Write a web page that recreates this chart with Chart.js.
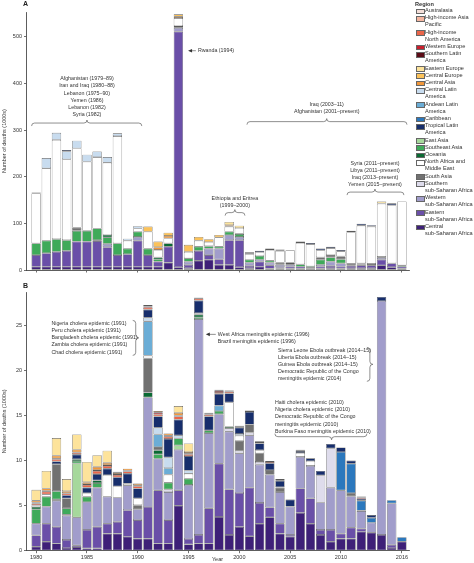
<!DOCTYPE html>
<html>
<head>
<meta charset="utf-8">
<script src="https://cdn.jsdelivr.net/npm/chart.js@4.4.1/dist/chart.umd.min.js"></script>
<style>
  html, body { margin: 0; padding: 0; background: #fff; overflow: hidden; }
  #wrap { position: relative; width: 474px; height: 563px; }
  canvas { position: absolute; left: 0; }
  #chartA { top: 0; }
  #chartB { top: 280px; }
  .panel { position: absolute; left: 23px; font: bold 7px "Liberation Sans", Arial, sans-serif; color: #222; }
  #legend { position: absolute; left: 415px; top: 0; width: 59px; font-family: "Liberation Sans Narrow", "Liberation Sans", Arial, sans-serif; font-size: 5.6px; color: #333; }
  #legend .lg-title { font-weight: bold; height: 6px; line-height: 6px; margin-top: 1px; }
  #legend .item { position: relative; padding-left: 10px; line-height: 7.2px; white-space: pre-line; }
  #legend .sw { position: absolute; left: 1px; top: 1.6px; width: 7px; height: 3.8px; border: 0.5px solid #666; }
</style>
</head>
<body>
<div id="wrap">
  <canvas id="chartA" width="474" height="280"></canvas>
  <canvas id="chartB" width="474" height="283"></canvas>
  <div class="panel" style="top:0px">A</div>
  <div class="panel" style="top:282px">B</div>
  <div id="legend"><div class="lg-title">Region</div></div>
</div>
<script>
// ── DATA ───────────────────────────────────────────────────
const years = [1980,1981,1982,1983,1984,1985,1986,1987,1988,1989,1990,1991,1992,1993,1994,1995,1996,1997,1998,
               1999,2000,2001,2002,2003,2004,2005,2006,2007,2008,2009,2010,2011,2012,2013,2014,2015,2016];
const yearTicks = [1980, 1985, 1990, 1995, 2000, 2005, 2010, 2016];
const conflictTicks = [0, 100, 200, 300, 400, 500];
const epidemicTicks = [0, 5, 10, 15, 20, 25];

// legend order (top of legend = top of stack)
const regionKeys = ['australasia','hiAsiaPac','hiNA','wEurope','southernLA','eEurope','cEurope','cAsia','cLA','andean',
                    'caribbean','tropLA','eastAsia','seAsia','oceania','name','southAsia','sssa','wssa','essa','cssa'];
const regionLabels = ['Australasia', 'High-income Asia\nPacific', 'High-income\nNorth America', 'Western Europe',
  'Southern Latin\nAmerica', 'Eastern Europe', 'Central Europe', 'Central Asia', 'Central Latin\nAmerica',
  'Andean Latin\nAmerica', 'Caribbean', 'Tropical Latin\nAmerica', 'East Asia', 'Southeast Asia', 'Oceania',
  'North Africa and\nMiddle East', 'South Asia', 'Southern\nsub-Saharan Africa', 'Western\nsub-Saharan Africa',
  'Eastern\nsub-Saharan Africa', 'Central\nsub-Saharan Africa'];
const regionColors = ['#f4dfd9','#f5b6a0','#ea6549','#c81f2d','#5b0c17','#fde39b','#fbc25a','#f2983b','#c8dcef','#6badd6',
                      '#2b78bd','#172e6c','#a6d89c','#3faa5a','#0a6a33','#ffffff','#717171','#dedcec','#a19dcb','#6a4fa8','#3e2078'];
// bottom → top
const stackOrder = ['cssa','essa','wssa','sssa','eastAsia','seAsia','oceania','southAsia','name','andean','cLA','caribbean',
                    'tropLA','australasia','hiAsiaPac','hiNA','wEurope','southernLA','cAsia','cEurope','eEurope'];

// Panel A — conflict and terrorism deaths (1000s)
const conflict = {
  cssa:   [7,7,7,7,7,7,7,7,7,7,7,7,7,16,6,4,20,22,11,11,6,4,7,3,3,3,3,3,3,4,3,4,4,4,10,6,3],
  essa:   [25,29,32,34,54,54,55,42,25,27,56,25,11,34,505,7,21,10,12,53,58,5,11,7,3,4,4,2,4,5,4,5,6,6,12,8,4],
  wssa:   [0,0,0,0,0,0,0,7,0,0,8,0,0,0,8,7,0,14,23,11,7,7,4,6,5,4,0,0,4,9,7,0,0,0,4,0,0],
  sssa:   [0,0,0,0,0,0,2,0,0,0,0,0,0,0,2,0,0,0,0,0,0,0,0,0,0,0,0,0,0,0,0,0,0,0,0,0,0],
  eastAsia: [],
  seAsia: [25,27,27,23,23,23,25,14,25,12,11,14,5,0,0,7,9,5,4,7,6,6,8,4,0,2,5,3,11,9,9,0,2,0,0,0,3],
  oceania: [0,0,0,0,0,0,0,5,0,0,0,0,4,7,2,0,0,0,0,0,1,0,0,0,0,0,0,0,0,0,0,0,0,0,0,0,0],
  southAsia: [0,0,0,0,7,0,0,0,0,0,0,0,0,0,0,0,0,0,0,0,0,0,0,0,5,3,0,0,5,5,6,4,2,3,2,0,0],
  name:   [107,155,213,173,170,148,153,155,230,17,7,36,16,11,17,14,13,9,20,11,12,12,8,23,25,26,46,47,15,15,11,68,81,80,114,125,137],
  andean: [],
  cLA:    [2,22,15,17,16,15,12,12,6,4,5,0,0,0,0,0,0,0,0,0,0,0,0,0,0,0,0,0,0,0,0,0,0,0,0,0,0],
  caribbean: [],
  tropLA: [0,0,0,3,0,0,0,0,0,0,0,0,0,0,0,0,0,0,0,0,0,0,3,0,0,1,3,3,4,3,3,3,4,3,0,4,0],
  australasia: [], hiAsiaPac: [],
  hiNA:   [0,0,0,0,0,0,0,0,0,0,0,0,0,0,0,0,0,0,0,0,0,2,0,0,2,0,0,0,0,0,0,0,0,0,0,0,0],
  wEurope: [0,0,0,0,0,0,0,0,0,0,0,0,0,0,0,0,0,0,0,0,0,2,0,3,0,0,0,0,0,0,0,0,0,0,0,0,0],
  southernLA: [],
  cAsia:  [0,0,0,0,0,0,0,0,0,0,0,0,6,5,3,0,0,0,0,3,0,0,0,0,1,0,0,0,0,0,0,0,0,0,1,0,0],
  cEurope: [0,0,0,0,0,0,0,0,0,0,0,11,12,7,5,15,8,6,5,0,0,0,0,0,0,0,0,0,0,0,0,0,0,0,0,0,0],
  eEurope: [0,0,0,0,0,0,0,0,0,0,0,0,0,0,0,0,0,0,0,7,5,0,0,0,0,0,0,0,0,0,0,0,0,0,4,0,0],
};

// Panel B — epidemic deaths (1000s)
const epidemic = {
  cssa:   [0.45,1.0,0.8,0.3,0.4,0.25,0.25,1.9,1.9,1.55,1.35,1.35,0.8,0.8,5.0,0.7,0.8,0.8,3.75,1.75,2.65,1.6,3.0,3.7,1.9,1.55,4.2,3.0,1.75,1.0,1.35,1.35,2.1,2.0,1.75,0.3,1.0],
  essa:   [1.25,2.0,1.85,0.9,0.2,2.05,2.4,1.1,1.3,2.95,2.05,3.5,5.9,2.6,1.7,0.6,0.95,3.9,5.9,5.05,3.75,5.4,2.3,1.1,1.1,0.2,2.7,2.8,0.55,1.3,0.55,1.2,0.35,0,0,0.35,0],
  wssa:   [1.3,1.9,2.9,2.7,3.1,3.1,4.35,3.0,2.7,2.75,1.2,12.15,3.5,3.1,4.5,6.0,23.95,8.35,5.5,6.4,4.4,5.8,4.25,3.65,3.5,3.15,3.5,3.6,3.05,4.7,4.8,3.5,1.95,1.1,25.95,4.6,0],
  sssa:   [0,0,0.15,0.1,0,0,0,0,0,0,0,0,0,0.3,0,0,0,0,0,0.4,0.3,0.3,0.3,0,0,0,0,0,3.0,4.35,0,0,0,0,0,0,0],
  eastAsia: [0,0,0,0,6.0,0,0,0,0,0,0,0,0,0,0.5,0,0,0,0,0,0,0,0,0,0,0,0,0,0,0,0,0,0,0,0,0,0],
  seAsia: [1.6,1.1,0.9,0.7,0.25,0.6,0.5,0,0,0,0,0,0.5,0.75,0.75,0.7,0.2,0.3,0.35,0.15,0,0,0,0,0,0,0,0,0,0,0,0,0,0,0,0,0],
  oceania: [0.25,0,0,0,0.2,0,0.3,0,0,0,0,0.55,0.45,0,0,0,0.3,0,0,0,0,0,0,0,0,0,0,0,0,0,0,0,0,0,0,0,0],
  southAsia: [0,0,3.0,1.1,0,0,0,0,0,0,0.45,3.8,0.35,0,0,0,0,0,0,0,1.1,0.9,0.95,0.5,0.5,0,0,0,0,0,0,0.35,0,0,0,0,0],
  name:   [0.2,0.25,0,0,0,0.4,0,2.4,1.25,0.2,0.75,0.3,0,0.9,0,0.55,0.15,0,0,2.7,0.55,0,0.35,0,0.05,0,0.45,0.55,0,0,0,0,0.05,0,0,0,0],
  andean: [0,0,0,0,0,0,0,0,0,0,0,3.8,1.4,0.7,0,0,0,0,0.6,0,0,0,0,0,0,0,0,0,0,0,0,0,0,0,0,0,0],
  cLA:    [0,0,0,0,0,0,0,0,0,0,0,0.4,0.75,1.2,0.35,0.35,0,0,0,0,0.2,0,0,0,0,0,0,0,0,0,0,0,0,0,0,0,0],
  caribbean: [0,0,0,0,0,0,0,0,0,0,0,0,0,0,0,0,0,0,0,0,0,0,0,0,0,0,0,0,0,0,4.25,3.25,1.1,0.55,0,0.35,0.5],
  tropLA: [0,0,0.3,0.35,0.5,0.6,0.7,0.7,1.0,1.1,1.1,0.9,1.25,2.05,1.75,1.6,1.4,1.55,1.3,1.0,0.7,1.4,0.75,0.75,0.7,0.75,0.2,0.3,0.5,0.5,0.5,0.35,0.2,0.3,0.45,0,0],
  australasia: [], hiAsiaPac: [],
  hiNA:   [0.2,0.3,0.25,0.2,0.2,0.3,0.35,0.3,0.25,0.25,0.25,0.2,0.25,0.25,0.35,0.2,0.2,0.2,0.2,0.2,0.1,0.1,0.15,0.15,0.1,0.05,0.1,0,0,0,0,0,0,0,0,0,0],
  wEurope: [0.1,0.1,0.1,0.05,0.05,0.1,0.1,0.1,0.1,0.1,0.1,0.15,0.2,0.15,0.1,0.1,0.1,0.1,0.15,0.1,0.1,0.05,0.1,0.1,0.1,0,0.05,0,0,0,0,0,0.15,0,0,0,0],
  southernLA: [0,0,0,0,0,0,0,0,0,0,0,0,0,0,0,0,0,0,0,0,0,0,0,0,0,0,0,0,0,0,0,0,0.1,0,0,0,0],
  cAsia:  [0.2,0.25,0.3,0.2,0.3,0.2,0.35,0.25,0.15,0.2,0.2,0.15,0.15,0.2,0.3,0.15,0.05,0.1,0.1,0.05,0,0,0,0,0,0,0,0,0,0,0,0,0,0,0,0,0],
  cEurope: [],
  eEurope: [1.2,1.95,1.95,1.35,1.7,2.25,1.3,1.35,0.1,0,0,0,0,0,0.75,0.95,0,0,0,0,0,0,0,0,0,0,0,0,0,0,0,0,0,0,0,0,0],
};

// ── STYLE ──────────────────────────────────────────────────
const FONT = '"Liberation Sans Narrow", "Liberation Sans", Arial, sans-serif';
const INK = '#333';

function drawLines(ctx, lines, x, y, step, align) {
  ctx.textAlign = align;
  lines.forEach((t, i) => ctx.fillText(t, x, y + i * step));
}

// horizontal curly brace; dir -1 = tip up, 1 = tip down
function hBrace(ctx, x1, x2, y, tipX, dir) {
  const r = 3, h = 3;
  ctx.beginPath();
  ctx.moveTo(x1, y - dir * h);
  ctx.quadraticCurveTo(x1, y, x1 + r, y);
  ctx.lineTo(tipX - r, y);
  ctx.quadraticCurveTo(tipX, y, tipX, y + dir * h);
  ctx.quadraticCurveTo(tipX, y, tipX + r, y);
  ctx.lineTo(x2 - r, y);
  ctx.quadraticCurveTo(x2, y, x2, y - dir * h);
  ctx.stroke();
}

// vertical curly brace with tip pointing right
function vBrace(ctx, x, y1, y2) {
  const r = 3, h = 3, ym = (y1 + y2) / 2;
  ctx.beginPath();
  ctx.moveTo(x - h, y1);
  ctx.quadraticCurveTo(x, y1, x, y1 + r);
  ctx.lineTo(x, ym - r);
  ctx.quadraticCurveTo(x, ym, x + h, ym);
  ctx.quadraticCurveTo(x, ym, x, ym + r);
  ctx.lineTo(x, y2 - r);
  ctx.quadraticCurveTo(x, y2, x - h, y2);
  ctx.stroke();
}

function arrowLeft(ctx, headX, tailX, y) {
  ctx.beginPath();
  ctx.moveTo(tailX, y);
  ctx.lineTo(headX + 3, y);
  ctx.stroke();
  ctx.beginPath();
  ctx.moveTo(headX, y);
  ctx.lineTo(headX + 4, y - 1.8);
  ctx.lineTo(headX + 4, y + 1.8);
  ctx.closePath();
  ctx.fill();
}

function prepCtx(ctx) {
  ctx.save();
  ctx.font = '5.3px ' + FONT;
  ctx.fillStyle = INK;
  ctx.strokeStyle = '#444';
  ctx.lineWidth = 0.6;
  ctx.textBaseline = 'middle';
}

const conflictNotes = {
  id: 'conflictNotes',
  afterDraw(chart) {
    const { ctx, scales: { x, y } } = chart;
    const X = v => x.getPixelForValue(v), Y = v => y.getPixelForValue(v);
    prepCtx(ctx);
    drawLines(ctx, ['Afghanistan (1979–89)', 'Iran and Iraq (1980–88)', 'Lebanon (1975–90)', 'Yemen (1986)',
                    'Lebanon (1982)', 'Syria (1982)'], X(1985), Y(410), 7.25, 'center');
    hBrace(ctx, X(1979.55), X(1990.4), Y(315), X(1985), -1);

    arrowLeft(ctx, X(1994.95), X(1995.72), Y(470));
    drawLines(ctx, ['Rwanda (1994)'], X(1995.92), Y(470), 0, 'left');

    drawLines(ctx, ['Ethiopia and Eritrea', '(1999–2000)'], X(1999.56), Y(154), 7.5, 'center');
    hBrace(ctx, X(1998.6), X(2000.55), Y(123), X(1999.56), -1);

    drawLines(ctx, ['Iraq (2003–11)', 'Afghanistan (2001–present)'], X(2008.6), Y(355), 7.3, 'center');
    hBrace(ctx, X(2000.75), X(2016.5), Y(318), X(2008.6), -1);

    drawLines(ctx, ['Syria (2011–present)', 'Libya (2011–present)', 'Iraq (2013–present)', 'Yemen (2015–present)'],
              X(2013.35), Y(229), 7, 'center');
    hBrace(ctx, X(2010.6), X(2016.2), Y(167), X(2013.35), -1);
    ctx.restore();
  }
};

const epidemicNotes = {
  id: 'epidemicNotes',
  afterDraw(chart) {
    const { ctx, scales: { x, y } } = chart;
    const X = v => x.getPixelForValue(v), Y = v => y.getPixelForValue(v);
    prepCtx(ctx);
    drawLines(ctx, ['Nigeria cholera epidemic (1991)', 'Peru cholera epidemic (1991)', 'Bangladesh cholera epidemic (1991)',
                    'Zambia cholera epidemic (1991)', 'Chad cholera epidemic (1991)'], X(1981.5), Y(25.25), 7.3, 'left');
    vBrace(ctx, X(1989.8), Y(25.55), Y(21.67));

    arrowLeft(ctx, X(1996.7), X(1997.68), Y(24.0));
    drawLines(ctx, ['West Africa meningitis epidemic (1996)', 'Brazil meningitis epidemic (1996)'],
              X(1997.88), Y(24.0), 7.5, 'left');

    drawLines(ctx, ['Sierra Leone Ebola outbreak (2014–15)', 'Liberia Ebola outbreak (2014–15)', 'Guinea Ebola outbreak (2014–15)',
                    'Democratic Republic of the Congo', 'meningitis epidemic (2014)'], X(2003.8), Y(22.23), 7.1, 'left');
    vBrace(ctx, X(2012.85), Y(22.56), Y(18.79));

    drawLines(ctx, ['Haiti cholera epidemic (2010)', 'Nigeria cholera epidemic (2010)', 'Democratic Republic of the Congo',
                    'meningitis epidemic (2010)', 'Burkina Faso meningitis epidemic (2010)'], X(2003.5), Y(16.43), 7.2, 'left');
    hBrace(ctx, X(2003.5), X(2012.56), Y(12.65), X(2009.08), 1);
    ctx.restore();
  }
};

// ── CHARTS ─────────────────────────────────────────────────
function buildDatasets(values) {
  return stackOrder.map(key => {
    const i = regionKeys.indexOf(key);
    return {
      label: regionLabels[i].replace('\n', ' '),
      data: values[key],
      backgroundColor: regionColors[i],
      borderColor: '#595959',
      borderWidth: 0.6,
      borderSkipped: false,
      barPercentage: 0.92,
      categoryPercentage: 1,
    };
  });
}

function makeChart(canvasId, values, yMax, yTicks, xLabels, xHeight, plugin) {
  const tickFont = { family: FONT, size: 5.5 };
  return new Chart(document.getElementById(canvasId), {
    type: 'bar',
    data: { labels: years, datasets: buildDatasets(values) },
    plugins: [plugin],
    options: {
      responsive: false,
      animation: false,
      layout: { padding: { top: 12, right: 65, left: 0, bottom: 0 } },
      plugins: { legend: { display: false }, tooltip: { enabled: false } },
      scales: {
        x: {
          type: 'linear', stacked: true, min: 1979, max: 2016.7, offset: false,
          afterBuildTicks: s => { s.ticks = yearTicks.map(v => ({ value: v })); },
          afterFit: s => { s.height = xHeight; },
          grid: { offset: false, drawOnChartArea: false, drawTicks: true, tickLength: 2.5, color: INK, lineWidth: 0.7 },
          border: { display: true, color: INK, width: 0.8 },
          ticks: { font: tickFont, color: INK, padding: 0.5, maxRotation: 0, autoSkip: false,
                   callback: v => xLabels ? String(v) : '' },
          title: { display: !!xLabels, text: 'Year', font: { family: FONT, size: 5.5 }, color: INK, padding: 0 },
        },
        y: {
          stacked: true, min: 0, max: yMax,
          afterBuildTicks: s => { s.ticks = yTicks.map(v => ({ value: v })); },
          afterFit: s => { s.width = 26; },
          grid: { drawOnChartArea: false, drawTicks: true, tickLength: 2, color: INK, lineWidth: 0.7 },
          border: { display: true, color: INK, width: 0.8 },
          ticks: { font: tickFont, color: INK, padding: 2 },
          title: { display: true, text: 'Number of deaths (1000s)', font: { family: FONT, size: 5.5 }, color: INK,
                   padding: { top: 1.5, bottom: 0 } },
        },
      },
    },
  });
}

makeChart('chartA', conflict, 553, conflictTicks, false, 10, conflictNotes);
makeChart('chartB', epidemic, 28.7, epidemicTicks, true, 12.3, epidemicNotes);

// ── LEGEND ─────────────────────────────────────────────────
const legendEl = document.getElementById('legend');
regionKeys.forEach((key, i) => {
  const item = document.createElement('div');
  item.className = 'item';
  const sw = document.createElement('span');
  sw.className = 'sw';
  sw.style.background = regionColors[i];
  item.appendChild(sw);
  item.appendChild(document.createTextNode(regionLabels[i]));
  legendEl.appendChild(item);
});
</script>
</body>
</html>
